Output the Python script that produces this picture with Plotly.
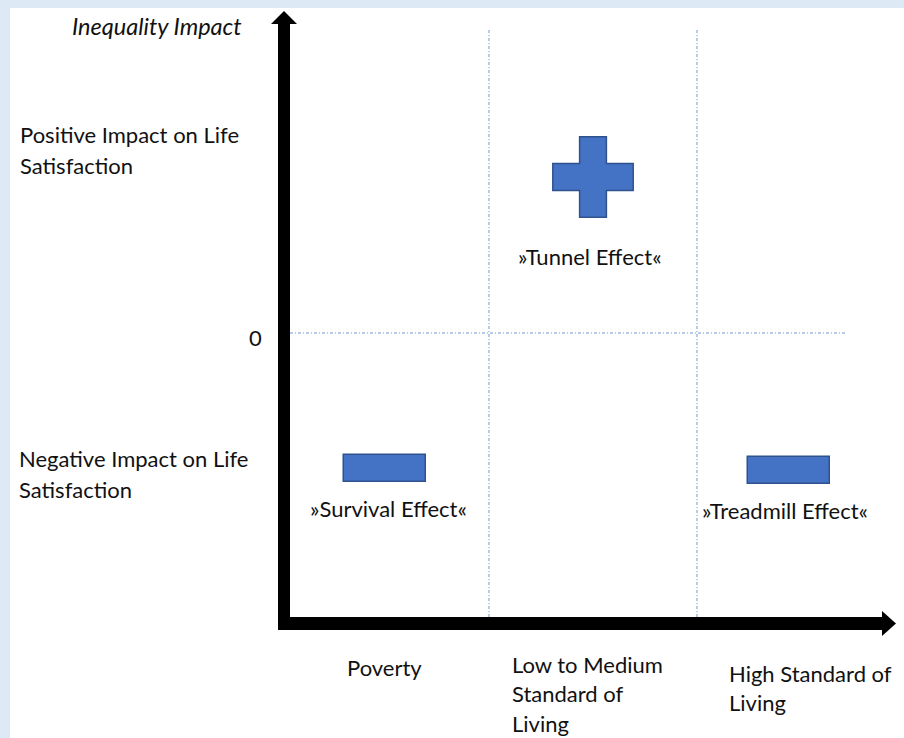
import plotly.graph_objects as go

# ---------------- data ----------------
category_lines = [["Poverty"], ["Low to Medium", "Standard of", "Living"], ["High Standard of", "Living"]]
category_bounds = [1, 2]                      # borders between the living-standard regions
effect_names = ["»Survival Effect«", "»Tunnel Effect«", "»Treadmill Effect«"]
effect_x = [0.5, 1.5, 2.44]                   # position along standard of living
effect_y = [-0.87, 1.0, -0.88]                # inequality impact (sign = direction)
y_labels_pos = ["Positive Impact on Life", "Satisfaction"]
y_labels_neg = ["Negative Impact on Life", "Satisfaction"]
y_axis_title = "Inequality Impact"
zero_label = "0"

# ---------------- style / layout ----------------
W, H = 904, 738
ML, MT = 10, 8
OX, OY, UX, UY = 281, 333, 208, 156   # pixel origin and pixel-per-unit


def X(px):
    return (px - OX) / UX


def Y(py):
    return (OY - py) / UY


FONT = "Lato, 'Open Sans', sans-serif"
FS = 22
TXT = "#111111"
FILL = "#4472c4"
EDGE = "#2f528f"
GRID = "#6f96d8"
BG = "#dee9f6"

fig = go.Figure()

# negative effects -> minus bars, positive -> cross marker
neg_x = [x for x, y in zip(effect_x, effect_y) if y < 0]
neg_y = [y for y in effect_y if y < 0]
bar_h = 27 / UY
fig.add_trace(go.Bar(
    x=neg_x, y=[bar_h] * len(neg_y), base=[y - bar_h / 2 for y in neg_y],
    width=82 / UX, marker=dict(color=FILL, line=dict(color=EDGE, width=1.5)),
    hoverinfo="skip", showlegend=False))
pos_x = [x for x, y in zip(effect_x, effect_y) if y > 0]
pos_y = [y for y in effect_y if y > 0]
fig.add_trace(go.Scatter(
    x=pos_x, y=pos_y, mode="markers",
    marker=dict(symbol="cross", size=67, color=FILL, line=dict(color=EDGE, width=1.5)),
    hoverinfo="skip", showlegend=False))

shapes = []
# dotted region borders
for b in category_bounds:
    shapes.append(dict(type="line", x0=b, x1=b, y0=Y(30), y1=Y(617), xref="x", yref="y",
                       line=dict(color=GRID, width=1, dash="3px,2px,1px,2px"), layer="below"))
shapes.append(dict(type="line", x0=X(290), x1=X(845), y0=0, y1=0, xref="x", yref="y",
                   line=dict(color=GRID, width=1, dash="3px,2px,1px,2px"), layer="below"))
# axis arrows
shapes.append(dict(type="line", x0=X(284), x1=X(284), y0=Y(630), y1=Y(22), xref="x", yref="y",
                   line=dict(color="black", width=12)))
shapes.append(dict(type="path", xref="x", yref="y",
                   path=f"M {X(271)},{Y(24)} L {X(284)},{Y(11)} L {X(297)},{Y(24)} Z",
                   fillcolor="black", line=dict(color="black", width=0)))
shapes.append(dict(type="line", x0=X(278), x1=X(884), y0=Y(623.5), y1=Y(623.5), xref="x", yref="y",
                   line=dict(color="black", width=13)))
shapes.append(dict(type="path", xref="x", yref="y",
                   path=f"M {X(882)},{Y(611)} L {X(896)},{Y(623.5)} L {X(882)},{Y(636)} Z",
                   fillcolor="black", line=dict(color="black", width=0)))

ann = []


def text(t, x, y, xanchor="left", italic=False, size=FS, **kw):
    ann.append(dict(text=f"<i>{t}</i>" if italic else t, x=x, y=y, xref="x", yref="y",
                    xanchor=xanchor, yanchor="middle", showarrow=False,
                    font=dict(family=FONT, size=size, color=TXT), **kw))


# y axis texts
text(y_axis_title, X(244), Y(26), xanchor="right", italic=True, size=23.5)
for i, t in enumerate(y_labels_pos):
    text(t, X(18), Y(134 + 31 * i))
for i, t in enumerate(y_labels_neg):
    text(t, X(17), Y(458 + 31 * i))
text(zero_label, X(264), 0, xanchor="right", yshift=-4)

# category labels
cat_anchor = [(X(384.5), "center", 667), (X(510), "left", 664), (X(727), "left", 673)]
for lines, (ax, xa, py) in zip(category_lines, cat_anchor):
    for i, t in enumerate(lines):
        text(t, ax, Y(py + 29.5 * i), xanchor=xa)

# effect labels below their marks
for name, x, y in zip(effect_names, effect_x, effect_y):
    off = 79 if y > 0 else 40
    text(name, x, y, xanchor="center", yshift=-off, xshift=-3 if y > 0 else (3 if x < 1 else -4))

fig.update_layout(
    width=W, height=H,
    margin=dict(l=ML, r=0, t=MT, b=0, autoexpand=False),
    paper_bgcolor=BG, plot_bgcolor="white",
    xaxis=dict(range=[X(ML), X(W)], visible=False, fixedrange=True),
    yaxis=dict(range=[Y(H), Y(MT)], visible=False, fixedrange=True),
    shapes=shapes, annotations=ann, showlegend=False, bargap=0,
)

fig.write_html("out.html", config=dict(displayModeBar=False),
               post_script="document.body.style.margin='0';document.body.style.overflow='hidden';")
